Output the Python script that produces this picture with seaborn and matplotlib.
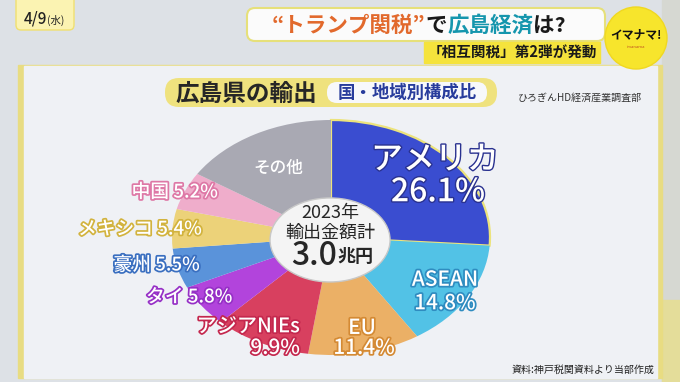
#!/usr/bin/env python3

import matplotlib
matplotlib.use('Agg')
import matplotlib.pyplot as plt
import matplotlib.patheffects as pe
from matplotlib.patches import FancyBboxPatch, Ellipse, Rectangle, Circle
import seaborn as sns

# data
regions = ['アメリカ', 'ASEAN', 'EU', 'アジアNIEs', 'タイ', '豪州', 'メキシコ', '中国', 'その他']
shares = [26.1, 14.8, 11.4, 9.9, 5.8, 5.5, 5.4, 5.2, 15.9]
total_year = '2023年'
total_value = '3.0'

# styles
colors = ['#3a4dd0', '#52c2e6', '#ebb066', '#d8405f', '#b244dc',
          '#5a93da', '#ecd279', '#efadcb', '#a9a9b3']
strokes = ['#2a3290', '#2f8cc0', '#d48a34', '#c4284e', '#9630c6',
           '#3a6fc0', '#d2b33e', '#de78a6', None]

sns.set_theme(style='white')
plt.rcParams['font.family'] = ['Noto Sans CJK JP', 'DejaVu Sans']

fig = plt.figure(figsize=(6.8, 3.82), dpi=100)
fig.patch.set_facecolor('#dde1e6')

# background in pixel coordinates
bg = fig.add_axes([0, 0, 1, 1])
bg.set_xlim(0, 680)
bg.set_ylim(382, 0)
bg.axis('off')

bg.add_patch(Rectangle((662, 0), 18, 382, color='#d6d8d2'))
bg.add_patch(Rectangle((662, 300), 18, 82, color='#e4dd9a'))
bg.add_patch(Rectangle((18, 65), 644, 313, color='#e8dc82'))
bg.add_patch(Rectangle((24, 66), 633, 312, color='#eff1f5'))

# header
bg.add_patch(FancyBboxPatch((16, -10), 58, 40, boxstyle='round,pad=0,rounding_size=5',
                            fc='#fbf3b2', ec='#f0e070', lw=1))
bg.text(47, 19, '4/9', fontsize=11, fontweight='medium', ha='right', va='center',
        color='#222222')
bg.text(47, 20, '(水)', fontsize=7.5, ha='left', va='center', color='#222222')

bg.add_patch(FancyBboxPatch((247, 8), 358, 33, boxstyle='round,pad=0,rounding_size=8',
                            fc='#fbfbfb', ec='#e6e07a', lw=1.5))
pieces = [('“トランプ関税”', '#e2692c'), ('で', '#1a1a1a'),
          ('広島経済', '#1596ad'), ('は?', '#1a1a1a')]
renderer = fig.canvas.get_renderer()
x = 272
for txt, col in pieces:
    t = bg.text(x, 25, txt, fontsize=15.5, fontweight='bold', color=col,
                ha='left', va='center')
    bb = t.get_window_extent(renderer=renderer)
    x += bb.width
bg.add_patch(Rectangle((424, 42), 176, 21, color='#f5e33c'))
bg.text(512, 52.5, '「相互関税」第2弾が発動', fontsize=10.5, fontweight='bold',
        ha='center', va='center', color='#1a1a1a')
bg.add_patch(Circle((636, 38), 31, fc='#f7e52c', ec='#f0d820'))
bg.text(636, 35, 'イマナマ!', fontsize=8.5, fontweight='bold', ha='center',
        va='center', color='#111111')
bg.text(636, 47, 'imanama', fontsize=3, ha='center', va='center', color='#c05020')

# title
bg.add_patch(FancyBboxPatch((165, 78), 332, 29, boxstyle='round,pad=0,rounding_size=14',
                            fc='#efe27e', ec='none'))
bg.add_patch(FancyBboxPatch((327, 82), 160, 21, boxstyle='round,pad=0,rounding_size=10',
                            fc='#f7f8fb', ec='none'))
bg.text(246, 93.5, '広島県の輸出', fontsize=17, fontweight='bold', ha='center',
        va='center', color='#262626')
bg.text(407, 93, '国・地域別構成比', fontsize=12.5, fontweight='bold', ha='center',
        va='center', color='#283c9c')
bg.text(580, 98, 'ひろぎんHD経済産業調査部', fontsize=7.2, ha='center', va='center',
        color='#333333')
bg.text(583, 370, '資料:神戸税関資料より当部作成', fontsize=7.2, ha='center',
        va='center', color='#222222')

# pie
ax = fig.add_axes([172 / 680, (382 - 355) / 382, 318 / 680, 235 / 382])
ax.set_zorder(2)
wedges, _ = ax.pie(shares, colors=colors, startangle=90, counterclock=False,
                   radius=1, wedgeprops=dict(linewidth=0))
ax.set_aspect('auto')
ax.set_xlim(-1, 1)
ax.set_ylim(-1, 1)
ax.axis('off')
for w in wedges:
    w.set_clip_on(False)
wedges[0].set_edgecolor('#ece37c')
wedges[0].set_linewidth(1.6)

ax.add_patch(Ellipse((-0.006, -0.021), 0.755, 0.715, fc='#f4f4f4',
                     ec='#c8c8c8', lw=1, zorder=5))
ax.text(-0.006, 0.21, total_year, fontsize=13, ha='center', va='center',
        color='#262626', zorder=6)
ax.text(-0.006, 0.04, '輸出金額計', fontsize=13, ha='center', va='center',
        color='#262626', zorder=6)
ax.text(0.04, -0.16, total_value, fontsize=23, fontweight='medium', ha='right',
        va='center', color='#262626', zorder=6)
ax.text(0.04, -0.165, '兆円', fontsize=13, fontweight='bold', ha='left',
        va='center', color='#262626', zorder=6)


def label(x, y, s, i, size, ha='center', lw=2.5):
    eff = [pe.withStroke(linewidth=lw, foreground=strokes[i])] if strokes[i] else None
    ax.text(x, y, s, fontsize=size, fontweight='medium', ha=ha, va='center',
            color='white', path_effects=eff, zorder=7)


pct = [f'{v}%' for v in shares]
label(0.654, 0.66, regions[0], 0, 23, lw=2)
label(0.673, 0.385, pct[0], 0, 23, lw=2)
label(0.717, -0.36, regions[1], 1, 15)
label(0.717, -0.56, pct[1], 1, 15)
label(0.195, -0.77, regions[2], 2, 15)
label(0.208, -0.94, pct[2], 2, 15)
label(-0.195, -0.76, regions[3], 3, 14.5, ha='right')
label(-0.195, -0.94, pct[3], 3, 15, ha='right')
label(-0.62, -0.506, f'{regions[4]} {pct[4]}', 4, 13.5, ha='right')
label(-0.825, -0.234, f'{regions[5]} {pct[5]}', 5, 13.5, ha='right')
label(-0.812, 0.072, f'{regions[6]} {pct[6]}', 6, 13.5, ha='right')
label(-0.711, 0.387, f'{regions[7]} {pct[7]}', 7, 13.5, ha='right')
label(-0.333, 0.59, regions[8], 8, 12)

fig.savefig('out.png', dpi=100, facecolor=fig.get_facecolor())
plt.close(fig)
